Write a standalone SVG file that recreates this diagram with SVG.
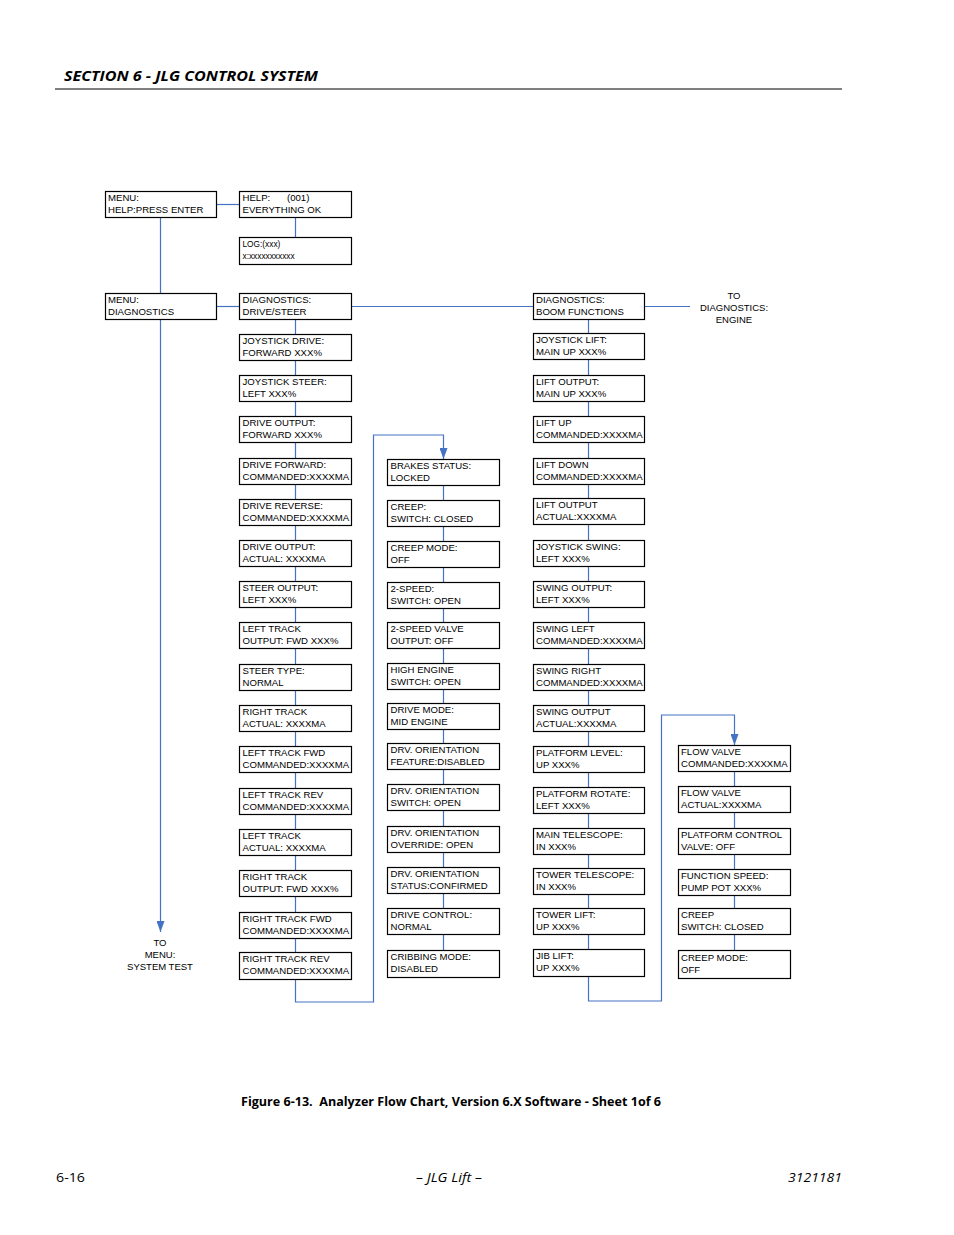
<svg xmlns="http://www.w3.org/2000/svg" width="954" height="1235" viewBox="0 0 954 1235">
<style>
.bx{fill:#fff;stroke:#000;stroke-width:1.2}
.t{font-family:"Liberation Sans",Arial,sans-serif;font-size:9.6px;fill:#000}
.ts{font-family:"Liberation Sans",Arial,sans-serif;font-size:8.3px;fill:#000}
.lbl{font-family:"Liberation Sans",Arial,sans-serif;font-size:9.5px;fill:#000;text-anchor:middle}
.cn{fill:none;stroke:#4472C4;stroke-width:1.2}
.hdr{font-family:"Open Sans","Liberation Sans",sans-serif;font-weight:bold;font-style:italic;font-size:15px;fill:#000}
.cap{font-family:"Open Sans","Liberation Sans",sans-serif;font-weight:bold;font-size:13px;fill:#000}
.ft{font-family:"Open Sans","Liberation Sans",sans-serif;font-size:13.5px;fill:#000}
</style>
<defs>
<marker id="ah" markerUnits="userSpaceOnUse" markerWidth="8" markerHeight="11" refX="4" refY="11" orient="0" viewBox="0 0 8 11">
<path d="M0,0 L8,0 L4,11 z" fill="#4472C4"/>
</marker>
</defs>
<rect width="954" height="1235" fill="#fff"/>
<g id="header">
<text class="hdr" x="64" y="81" textLength="254" lengthAdjust="spacingAndGlyphs">SECTION 6 - JLG CONTROL SYSTEM</text>
<line x1="55" y1="89" x2="842" y2="89" stroke="#000" stroke-width="1"/>
</g>
<g id="connectors">
<path class="cn" d="M160.5,217 V932" marker-end="url(#ah)"/>
<path class="cn" d="M216,204.5 H239"/>
<path class="cn" d="M216,306.5 H239"/>
<path class="cn" d="M351,306.5 H533"/>
<path class="cn" d="M644,306.5 H690"/>
<path class="cn" d="M295.5,217 V237"/>
<path class="cn" d="M295.5,319 V1002 H373.5 V435 H443.5 V459" marker-end="url(#ah)"/>
<path class="cn" d="M443.5,486 V951"/>
<path class="cn" d="M588.5,319 V1001 H661.5 V715 H734.5 V745" marker-end="url(#ah)"/>
<path class="cn" d="M734.5,772 V951"/>
</g>
<g id="labels">
<text class="lbl" x="734" y="298.5">TO</text>
<text class="lbl" x="734" y="310.5">DIAGNOSTICS:</text>
<text class="lbl" x="734" y="322.5">ENGINE</text>
<text class="lbl" x="160" y="945.5">TO</text>
<text class="lbl" x="160" y="957.5">MENU:</text>
<text class="lbl" x="160" y="969.5">SYSTEM TEST</text>
</g>
<g id="n-menu-help"><rect class="bx" x="105.5" y="191.5" width="111" height="26"/><text class="t" x="108" y="201">MENU:</text><text class="t" x="108" y="213">HELP:PRESS ENTER</text></g>
<g id="n-menu-diag"><rect class="bx" x="105.5" y="293.5" width="111" height="26"/><text class="t" x="108" y="303">MENU:</text><text class="t" x="108" y="315">DIAGNOSTICS</text></g>
<g id="n-help"><rect class="bx" x="239.5" y="191.5" width="112" height="26"/><text class="t" x="242.5" y="201">HELP:</text><text class="t" x="287" y="201">(001)</text><text class="t" x="242.5" y="213">EVERYTHING OK</text></g>
<g id="n-log"><rect class="bx" x="239.5" y="237.5" width="112" height="27"/><text class="ts" x="242.5" y="247">LOG:(xxx)</text><text class="ts" x="242.5" y="259">x:xxxxxxxxxxx</text></g>
<g id="c2-01"><rect class="bx" x="239.5" y="293.5" width="112" height="26"/><text class="t" x="242.5" y="303">DIAGNOSTICS:</text><text class="t" x="242.5" y="315">DRIVE/STEER</text></g>
<g id="c2-02"><rect class="bx" x="239.5" y="334.5" width="112" height="26"/><text class="t" x="242.5" y="344">JOYSTICK DRIVE:</text><text class="t" x="242.5" y="356">FORWARD XXX%</text></g>
<g id="c2-03"><rect class="bx" x="239.5" y="375.5" width="112" height="26"/><text class="t" x="242.5" y="385">JOYSTICK STEER:</text><text class="t" x="242.5" y="397">LEFT XXX%</text></g>
<g id="c2-04"><rect class="bx" x="239.5" y="416.5" width="112" height="26"/><text class="t" x="242.5" y="426">DRIVE OUTPUT:</text><text class="t" x="242.5" y="438">FORWARD XXX%</text></g>
<g id="c2-05"><rect class="bx" x="239.5" y="458.5" width="112" height="26"/><text class="t" x="242.5" y="468">DRIVE FORWARD:</text><text class="t" x="242.5" y="480">COMMANDED:XXXXMA</text></g>
<g id="c2-06"><rect class="bx" x="239.5" y="499.5" width="112" height="26"/><text class="t" x="242.5" y="509">DRIVE REVERSE:</text><text class="t" x="242.5" y="521">COMMANDED:XXXXMA</text></g>
<g id="c2-07"><rect class="bx" x="239.5" y="540.5" width="112" height="26"/><text class="t" x="242.5" y="550">DRIVE OUTPUT:</text><text class="t" x="242.5" y="562">ACTUAL: XXXXMA</text></g>
<g id="c2-08"><rect class="bx" x="239.5" y="581.5" width="112" height="26"/><text class="t" x="242.5" y="591">STEER OUTPUT:</text><text class="t" x="242.5" y="603">LEFT XXX%</text></g>
<g id="c2-09"><rect class="bx" x="239.5" y="622.5" width="112" height="26"/><text class="t" x="242.5" y="632">LEFT TRACK</text><text class="t" x="242.5" y="644">OUTPUT: FWD XXX%</text></g>
<g id="c2-10"><rect class="bx" x="239.5" y="664.5" width="112" height="26"/><text class="t" x="242.5" y="674">STEER TYPE:</text><text class="t" x="242.5" y="686">NORMAL</text></g>
<g id="c2-11"><rect class="bx" x="239.5" y="705.5" width="112" height="26"/><text class="t" x="242.5" y="715">RIGHT TRACK</text><text class="t" x="242.5" y="727">ACTUAL: XXXXMA</text></g>
<g id="c2-12"><rect class="bx" x="239.5" y="746.5" width="112" height="26"/><text class="t" x="242.5" y="756">LEFT TRACK FWD</text><text class="t" x="242.5" y="768">COMMANDED:XXXXMA</text></g>
<g id="c2-13"><rect class="bx" x="239.5" y="788.5" width="112" height="26"/><text class="t" x="242.5" y="798">LEFT TRACK REV</text><text class="t" x="242.5" y="810">COMMANDED:XXXXMA</text></g>
<g id="c2-14"><rect class="bx" x="239.5" y="829.5" width="112" height="26"/><text class="t" x="242.5" y="839">LEFT TRACK</text><text class="t" x="242.5" y="851">ACTUAL: XXXXMA</text></g>
<g id="c2-15"><rect class="bx" x="239.5" y="870.5" width="112" height="26"/><text class="t" x="242.5" y="880">RIGHT TRACK</text><text class="t" x="242.5" y="892">OUTPUT: FWD XXX%</text></g>
<g id="c2-16"><rect class="bx" x="239.5" y="912.5" width="112" height="26"/><text class="t" x="242.5" y="922">RIGHT TRACK FWD</text><text class="t" x="242.5" y="934">COMMANDED:XXXXMA</text></g>
<g id="c2-17"><rect class="bx" x="239.5" y="952.5" width="112" height="27"/><text class="t" x="242.5" y="962">RIGHT TRACK REV</text><text class="t" x="242.5" y="974">COMMANDED:XXXXMA</text></g>
<g id="c3-01"><rect class="bx" x="387.5" y="459.5" width="112" height="26"/><text class="t" x="390.5" y="469">BRAKES STATUS:</text><text class="t" x="390.5" y="481">LOCKED</text></g>
<g id="c3-02"><rect class="bx" x="387.5" y="500.5" width="112" height="26"/><text class="t" x="390.5" y="510">CREEP:</text><text class="t" x="390.5" y="522">SWITCH: CLOSED</text></g>
<g id="c3-03"><rect class="bx" x="387.5" y="541.5" width="112" height="26"/><text class="t" x="390.5" y="551">CREEP MODE:</text><text class="t" x="390.5" y="563">OFF</text></g>
<g id="c3-04"><rect class="bx" x="387.5" y="582.5" width="112" height="26"/><text class="t" x="390.5" y="592">2-SPEED:</text><text class="t" x="390.5" y="604">SWITCH: OPEN</text></g>
<g id="c3-05"><rect class="bx" x="387.5" y="622.5" width="112" height="26"/><text class="t" x="390.5" y="632">2-SPEED VALVE</text><text class="t" x="390.5" y="644">OUTPUT: OFF</text></g>
<g id="c3-06"><rect class="bx" x="387.5" y="663.5" width="112" height="26"/><text class="t" x="390.5" y="673">HIGH ENGINE</text><text class="t" x="390.5" y="685">SWITCH: OPEN</text></g>
<g id="c3-07"><rect class="bx" x="387.5" y="703.5" width="112" height="26"/><text class="t" x="390.5" y="713">DRIVE MODE:</text><text class="t" x="390.5" y="725">MID ENGINE</text></g>
<g id="c3-08"><rect class="bx" x="387.5" y="743.5" width="112" height="26"/><text class="t" x="390.5" y="753">DRV. ORIENTATION</text><text class="t" x="390.5" y="765">FEATURE:DISABLED</text></g>
<g id="c3-09"><rect class="bx" x="387.5" y="784.5" width="112" height="26"/><text class="t" x="390.5" y="794">DRV. ORIENTATION</text><text class="t" x="390.5" y="806">SWITCH: OPEN</text></g>
<g id="c3-10"><rect class="bx" x="387.5" y="826.5" width="112" height="26"/><text class="t" x="390.5" y="836">DRV. ORIENTATION</text><text class="t" x="390.5" y="848">OVERRIDE: OPEN</text></g>
<g id="c3-11"><rect class="bx" x="387.5" y="867.5" width="112" height="26"/><text class="t" x="390.5" y="877">DRV. ORIENTATION</text><text class="t" x="390.5" y="889">STATUS:CONFIRMED</text></g>
<g id="c3-12"><rect class="bx" x="387.5" y="908.5" width="112" height="26"/><text class="t" x="390.5" y="918">DRIVE CONTROL:</text><text class="t" x="390.5" y="930">NORMAL</text></g>
<g id="c3-13"><rect class="bx" x="387.5" y="950.5" width="112" height="27"/><text class="t" x="390.5" y="960">CRIBBING MODE:</text><text class="t" x="390.5" y="972">DISABLED</text></g>
<g id="c4-01"><rect class="bx" x="533.5" y="293.5" width="111" height="26"/><text class="t" x="536" y="303">DIAGNOSTICS:</text><text class="t" x="536" y="315">BOOM FUNCTIONS</text></g>
<g id="c4-02"><rect class="bx" x="533.5" y="333.5" width="111" height="26"/><text class="t" x="536" y="343">JOYSTICK LIFT:</text><text class="t" x="536" y="355">MAIN UP XXX%</text></g>
<g id="c4-03"><rect class="bx" x="533.5" y="375.5" width="111" height="26"/><text class="t" x="536" y="385">LIFT OUTPUT:</text><text class="t" x="536" y="397">MAIN UP XXX%</text></g>
<g id="c4-04"><rect class="bx" x="533.5" y="416.5" width="111" height="26"/><text class="t" x="536" y="426">LIFT UP</text><text class="t" x="536" y="438">COMMANDED:XXXXMA</text></g>
<g id="c4-05"><rect class="bx" x="533.5" y="458.5" width="111" height="26"/><text class="t" x="536" y="468">LIFT DOWN</text><text class="t" x="536" y="480">COMMANDED:XXXXMA</text></g>
<g id="c4-06"><rect class="bx" x="533.5" y="498.5" width="111" height="26"/><text class="t" x="536" y="508">LIFT OUTPUT</text><text class="t" x="536" y="520">ACTUAL:XXXXMA</text></g>
<g id="c4-07"><rect class="bx" x="533.5" y="540.5" width="111" height="26"/><text class="t" x="536" y="550">JOYSTICK SWING:</text><text class="t" x="536" y="562">LEFT XXX%</text></g>
<g id="c4-08"><rect class="bx" x="533.5" y="581.5" width="111" height="26"/><text class="t" x="536" y="591">SWING OUTPUT:</text><text class="t" x="536" y="603">LEFT XXX%</text></g>
<g id="c4-09"><rect class="bx" x="533.5" y="622.5" width="111" height="26"/><text class="t" x="536" y="632">SWING LEFT</text><text class="t" x="536" y="644">COMMANDED:XXXXMA</text></g>
<g id="c4-10"><rect class="bx" x="533.5" y="664.5" width="111" height="26"/><text class="t" x="536" y="674">SWING RIGHT</text><text class="t" x="536" y="686">COMMANDED:XXXXMA</text></g>
<g id="c4-11"><rect class="bx" x="533.5" y="705.5" width="111" height="26"/><text class="t" x="536" y="715">SWING OUTPUT</text><text class="t" x="536" y="727">ACTUAL:XXXXMA</text></g>
<g id="c4-12"><rect class="bx" x="533.5" y="746.5" width="111" height="26"/><text class="t" x="536" y="756">PLATFORM LEVEL:</text><text class="t" x="536" y="768">UP XXX%</text></g>
<g id="c4-13"><rect class="bx" x="533.5" y="787.5" width="111" height="26"/><text class="t" x="536" y="797">PLATFORM ROTATE:</text><text class="t" x="536" y="809">LEFT XXX%</text></g>
<g id="c4-14"><rect class="bx" x="533.5" y="828.5" width="111" height="26"/><text class="t" x="536" y="838">MAIN TELESCOPE:</text><text class="t" x="536" y="850">IN XXX%</text></g>
<g id="c4-15"><rect class="bx" x="533.5" y="868.5" width="111" height="26"/><text class="t" x="536" y="878">TOWER TELESCOPE:</text><text class="t" x="536" y="890">IN XXX%</text></g>
<g id="c4-16"><rect class="bx" x="533.5" y="908.5" width="111" height="26"/><text class="t" x="536" y="918">TOWER LIFT:</text><text class="t" x="536" y="930">UP XXX%</text></g>
<g id="c4-17"><rect class="bx" x="533.5" y="949.5" width="111" height="27"/><text class="t" x="536" y="959">JIB LIFT:</text><text class="t" x="536" y="971">UP XXX%</text></g>
<g id="c5-01"><rect class="bx" x="678.5" y="745.5" width="112" height="26"/><text class="t" x="681" y="755">FLOW VALVE</text><text class="t" x="681" y="767">COMMANDED:XXXXMA</text></g>
<g id="c5-02"><rect class="bx" x="678.5" y="786.5" width="112" height="26"/><text class="t" x="681" y="796">FLOW VALVE</text><text class="t" x="681" y="808">ACTUAL:XXXXMA</text></g>
<g id="c5-03"><rect class="bx" x="678.5" y="828.5" width="112" height="26"/><text class="t" x="681" y="838">PLATFORM CONTROL</text><text class="t" x="681" y="850">VALVE: OFF</text></g>
<g id="c5-04"><rect class="bx" x="678.5" y="869.5" width="112" height="26"/><text class="t" x="681" y="879">FUNCTION SPEED:</text><text class="t" x="681" y="891">PUMP POT XXX%</text></g>
<g id="c5-05"><rect class="bx" x="678.5" y="908.5" width="112" height="26"/><text class="t" x="681" y="918">CREEP</text><text class="t" x="681" y="930">SWITCH: CLOSED</text></g>
<g id="c5-06"><rect class="bx" x="678.5" y="950.5" width="112" height="28"/><text class="t" x="681" y="961">CREEP MODE:</text><text class="t" x="681" y="973">OFF</text></g>
<g id="caption">
<text class="cap" x="241" y="1106" textLength="420" lengthAdjust="spacingAndGlyphs" xml:space="preserve">Figure 6-13.  Analyzer Flow Chart, Version 6.X Software - Sheet 1of 6</text>
</g>
<g id="footer">
<text class="ft" x="56" y="1182" textLength="29" lengthAdjust="spacingAndGlyphs">6-16</text>
<text class="ft" x="416" y="1182" font-style="italic" textLength="66" lengthAdjust="spacingAndGlyphs">– JLG Lift –</text>
<text class="ft" x="788" y="1182" font-style="italic" textLength="54" lengthAdjust="spacingAndGlyphs">3121181</text>
</g>
</svg>
